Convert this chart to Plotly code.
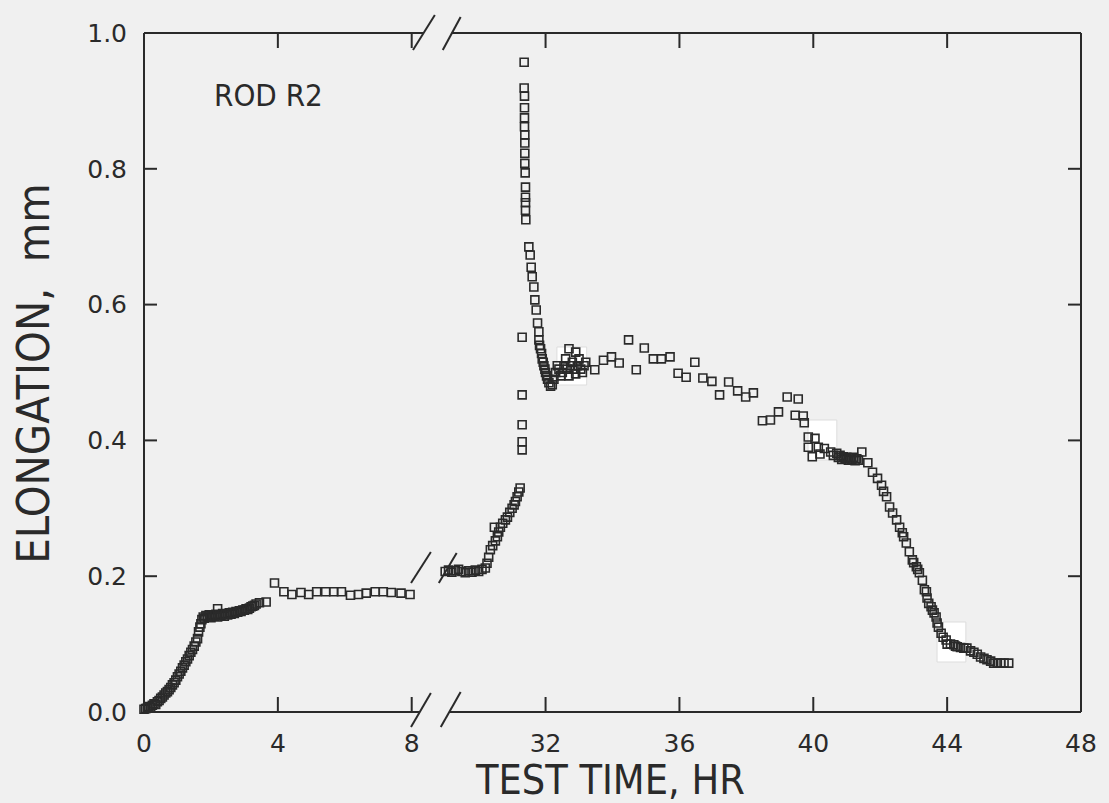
import plotly.graph_objects as go

# ---------------- data (test time in hours, elongation in mm) ----------------
# first segment (0 - 8 hr)
t_early = [0.0, 0.05, 0.1, 0.15, 0.2, 0.25, 0.3, 0.35, 0.4, 0.45, 0.5,
           0.55, 0.6, 0.65, 0.7, 0.75, 0.8, 0.85, 0.9, 0.95, 1.0, 1.05, 1.1,
           1.15, 1.2, 1.25, 1.3, 1.35, 1.4, 1.45, 1.5, 1.55, 1.6, 1.63, 1.67,
           1.7, 1.73, 1.77,
           1.8, 1.85, 1.9, 1.95, 2.0, 2.05, 2.1, 2.15, 2.2, 2.25, 2.3, 2.35,
           2.4, 2.45, 2.5, 2.55, 2.6, 2.65, 2.7, 2.75, 2.8, 2.85, 2.9, 2.95,
           3.0, 3.05, 3.1, 3.15, 3.2, 3.25, 3.3, 3.35, 3.45, 3.65, 2.2, 3.9,
           4.18, 4.42, 4.69, 4.92, 5.16, 5.43, 5.67, 5.9, 6.17, 6.41, 6.64,
           6.91, 7.15, 7.39, 7.68, 7.95]
e_early = [0.004, 0.005, 0.006, 0.008, 0.007, 0.010, 0.012, 0.011, 0.015, 0.017, 0.020,
           0.022, 0.025, 0.028, 0.030, 0.033, 0.036, 0.040, 0.043, 0.047, 0.052, 0.056, 0.060,
           0.065, 0.069, 0.074, 0.078, 0.083, 0.088, 0.092, 0.097, 0.103, 0.108, 0.118, 0.125,
           0.130, 0.136, 0.140,
           0.138, 0.142, 0.140, 0.143, 0.139, 0.142, 0.141, 0.144, 0.140, 0.143, 0.142, 0.145,
           0.141, 0.144, 0.143, 0.146, 0.144, 0.147, 0.145, 0.148, 0.147, 0.149, 0.148, 0.150,
           0.150, 0.152, 0.151, 0.153, 0.155, 0.156, 0.157, 0.159, 0.161, 0.162, 0.152, 0.190,
           0.177, 0.173, 0.176, 0.173, 0.177, 0.177, 0.177, 0.177, 0.172, 0.173, 0.175,
           0.177, 0.177, 0.176, 0.175, 0.173]

# second segment (29 - 46 hr)
t_late = [29.0, 29.1, 29.2, 29.3, 29.4, 29.5, 29.6, 29.7, 29.8, 29.9, 30.0, 30.1, 30.2,
          30.25, 30.3, 30.35, 30.42, 30.47, 30.5, 30.56, 30.6, 30.65, 30.72, 30.8, 30.86,
          30.93, 31.0, 31.06, 31.1, 31.15, 31.2, 31.24,
          31.3, 31.3, 31.3, 31.3, 31.3,
          31.36, 31.36, 31.37, 31.37, 31.37, 31.37, 31.38, 31.38, 31.38, 31.38, 31.39,
          31.4, 31.4, 31.4, 31.4, 31.41, 31.5, 31.54, 31.57, 31.6, 31.65, 31.68, 31.72,
          31.76, 31.8,
          31.8, 31.82, 31.85, 31.88, 31.9, 31.93, 31.95, 31.98, 32.0, 32.03, 32.06, 32.1,
          32.15, 32.2, 32.25, 32.3, 32.35, 32.4, 32.45, 32.5, 32.55, 32.6, 32.65, 32.7,
          32.75, 32.8, 32.85, 32.9, 32.95, 33.0, 33.05, 33.1, 33.15, 33.2, 32.7, 32.9,
          33.47, 33.73, 33.97, 34.2, 34.48, 34.71, 34.95, 35.22, 35.46, 35.72, 35.96,
          36.2, 36.46, 36.7, 36.97, 37.2, 37.47, 37.74, 37.98, 38.21, 38.48, 38.72,
          38.96, 39.22, 39.55, 39.46, 39.7, 39.73,
          39.85, 40.05, 39.85, 39.97, 40.15, 40.33, 40.2, 40.52, 40.6, 40.7, 40.75, 40.8,
          40.85, 40.9, 40.95, 41.0, 41.05, 41.1, 41.15, 41.2, 41.25, 41.3, 41.35, 41.45,
          41.63, 41.77, 41.92, 42.04, 42.1, 42.19, 42.28, 42.37, 42.49, 42.58, 42.66,
          42.7, 42.78, 42.87, 42.96, 43.0, 43.08, 43.12, 43.17, 43.26, 43.32, 43.38,
          43.4, 43.45, 43.52, 43.56, 43.61, 43.67, 43.7, 43.74, 43.82, 43.88, 43.97,
          44.0, 44.1, 44.2, 44.25, 44.3, 44.4, 44.5, 44.59, 44.7, 44.8, 44.9, 45.0,
          45.1, 45.19, 45.3, 45.39, 45.5, 45.6, 45.7, 45.84]
e_late = [0.207, 0.209, 0.206, 0.208, 0.210, 0.207, 0.205, 0.208, 0.206, 0.209, 0.207, 0.210, 0.212,
          0.219, 0.228, 0.239, 0.245, 0.272, 0.252, 0.258, 0.265, 0.272, 0.278, 0.283, 0.287,
          0.294, 0.300, 0.305, 0.310, 0.317, 0.324, 0.330,
          0.386, 0.398, 0.423, 0.467, 0.552,
          0.957, 0.919, 0.907, 0.890, 0.875, 0.862, 0.850, 0.838, 0.823, 0.808, 0.794,
          0.773, 0.758, 0.750, 0.739, 0.725, 0.685, 0.673, 0.655, 0.641, 0.626, 0.607, 0.592,
          0.573, 0.560,
          0.548, 0.540, 0.535, 0.528, 0.520, 0.515, 0.510, 0.505, 0.500, 0.495, 0.490, 0.485,
          0.480, 0.482, 0.490, 0.500, 0.510, 0.505, 0.495, 0.500, 0.510, 0.520, 0.505, 0.495,
          0.510, 0.515, 0.505, 0.498, 0.510, 0.520, 0.505, 0.500, 0.510, 0.515, 0.535, 0.530,
          0.504, 0.518, 0.523, 0.514, 0.548, 0.504, 0.536, 0.520, 0.520, 0.523, 0.499,
          0.493, 0.515, 0.492, 0.487, 0.467, 0.486, 0.473, 0.464, 0.470, 0.429, 0.430,
          0.442, 0.464, 0.461, 0.437, 0.436, 0.426,
          0.405, 0.403, 0.390, 0.376, 0.390, 0.388, 0.380, 0.383, 0.378, 0.381, 0.375, 0.378,
          0.372, 0.376, 0.373, 0.375, 0.371, 0.374, 0.372, 0.375, 0.370, 0.373, 0.371, 0.383,
          0.367, 0.353, 0.344, 0.334, 0.325, 0.317, 0.302, 0.293, 0.283, 0.272, 0.264,
          0.258, 0.249, 0.236, 0.224, 0.220, 0.214, 0.210, 0.205, 0.194, 0.180, 0.177,
          0.168, 0.160, 0.155, 0.150, 0.146, 0.140, 0.131, 0.125, 0.116, 0.110, 0.106,
          0.100, 0.100, 0.099, 0.097, 0.096, 0.095, 0.094, 0.094, 0.090, 0.088, 0.085, 0.081,
          0.079, 0.077, 0.075, 0.072, 0.072, 0.072, 0.072, 0.072]

x_ticks_early = [0, 4, 8]
x_ticks_late = [32, 36, 40, 44, 48]
y_ticks = [0.0, 0.2, 0.4, 0.6, 0.8, 1.0]
y_tick_labels = ["0.0", "0.2", "0.4", "0.6", "0.8", "1.0"]

# ---------------- figure ----------------
INK = "#2a2a2a"
BG = "#f0f0f0"
FONT = "Liberation Sans Narrow, DejaVu Sans Condensed, Liberation Sans, sans-serif"
TICKFONT = dict(family="DejaVu Sans, sans-serif", size=25, color=INK)

split = 8.6 / 28.0  # domain split so that both segments share the same hr/px scale

marker = dict(symbol="square-open", size=8, color=INK, line=dict(width=1.6, color=INK))

fig = go.Figure()
fig.add_trace(go.Scatter(x=t_early, y=e_early, mode="markers", marker=marker,
                         xaxis="x", yaxis="y", showlegend=False, cliponaxis=False))
fig.add_trace(go.Scatter(x=t_late, y=e_late, mode="markers", marker=marker,
                         xaxis="x2", yaxis="y", showlegend=False, cliponaxis=False))

axis_common = dict(showgrid=False, zeroline=False, showline=False, ticks="",
                   tickfont=TICKFONT)

fig.update_layout(
    width=1109, height=803,
    margin=dict(l=144, r=21, t=33, b=91),
    paper_bgcolor=BG, plot_bgcolor=BG,
    xaxis=dict(domain=[0, split], range=[0, 8.6], tickvals=x_ticks_early,
               ticktext=[str(v) for v in x_ticks_early], anchor="y",
               ticklabelstandoff=14, **axis_common),
    xaxis2=dict(domain=[split, 1], range=[28.6, 48], tickvals=x_ticks_late,
                ticktext=[str(v) for v in x_ticks_late], anchor="y",
                ticklabelstandoff=14, **axis_common),
    yaxis=dict(range=[0, 1], tickvals=y_ticks, ticktext=y_tick_labels,
               ticklabelstandoff=16, **axis_common),
)

line = dict(color=INK, width=2)
px_w, px_h = 944.0, 679.0
TL = 15  # tick length in pixels


def px(xp):
    return (xp - 144) / px_w


def py(yp):
    return (712 - yp) / px_h


shapes = []
# inward tick marks on all four sides, positioned through the axes' own scales
tl_y = TL / px_h
for ref, vals in (("x", x_ticks_early[1:]), ("x2", x_ticks_late[:-1])):
    for v in vals:
        shapes.append(dict(type="line", xref=ref, yref="y",
                           x0=v, x1=v, y0=0, y1=tl_y, line=line))
        shapes.append(dict(type="line", xref=ref, yref="y",
                           x0=v, x1=v, y0=1, y1=1 - tl_y, line=line))
for v in y_ticks[1:-1]:
    shapes.append(dict(type="line", xref="paper", yref="y", xsizemode="pixel",
                       xanchor=0, x0=0, x1=TL - 2, y0=v, y1=v, line=line))
    shapes.append(dict(type="line", xref="paper", yref="y", xsizemode="pixel",
                       xanchor=1, x0=0, x1=-(TL - 2), y0=v, y1=v, line=line))

# frame with gaps at the axis break
frame = [((0, 0), (0, 1)), ((1, 0), (1, 1)),
         ((0, 0), (px(422), 0)), ((px(452), 0), (1, 0)),
         ((0, 1), (px(426), 1)), ((px(454), 1), (1, 1))]
for (x0, y0), (x1, y1) in frame:
    shapes.append(dict(type="line", xref="paper", yref="paper",
                       x0=x0, y0=y0, x1=x1, y1=y1, line=line))
# break slashes (top axis, bottom axis, on the curve)
slashes = [((415, 50), (437, 15)), ((445, 50), (463, 17)),
           ((413, 727), (433, 693)), ((443, 727), (463, 692)),
           ((413, 583), (433, 552)), ((441, 583), (459, 553))]
for (a, b), (c, d) in slashes:
    shapes.append(dict(type="line", xref="paper", yref="paper",
                       x0=px(a), y0=py(b), x1=px(c), y1=py(d), line=line))
# white patches visible on the scanned original
for (a, b), (c, d) in [((560, 347), (590, 385)), ((813, 420), (842, 460)),
                       ((943, 622), (972, 662))]:
    shapes.append(dict(type="rect", xref="paper", yref="paper", layer="below",
                       x0=px(a), y0=py(d), x1=px(c), y1=py(b),
                       fillcolor="#ffffff", line=dict(color="#dddddd", width=1)))
fig.update_layout(shapes=shapes)

fig.add_annotation(text="ROD R2", xref="paper", yref="paper", x=px(213), y=py(95),
                   xanchor="left", yanchor="middle", showarrow=False,
                   font=dict(family=FONT, size=31, color=INK))
fig.add_annotation(text="TEST TIME, HR", xref="paper", yref="paper", x=px(613), y=py(780),
                   xanchor="center", yanchor="middle", showarrow=False,
                   font=dict(family=FONT, size=41, color=INK))
fig.add_annotation(text="ELONGATION,  mm", xref="paper", yref="paper", x=px(32), y=py(374),
                   xanchor="center", yanchor="middle", showarrow=False, textangle=-90,
                   font=dict(family=FONT, size=45, color=INK))

fig.write_html("out.html")
